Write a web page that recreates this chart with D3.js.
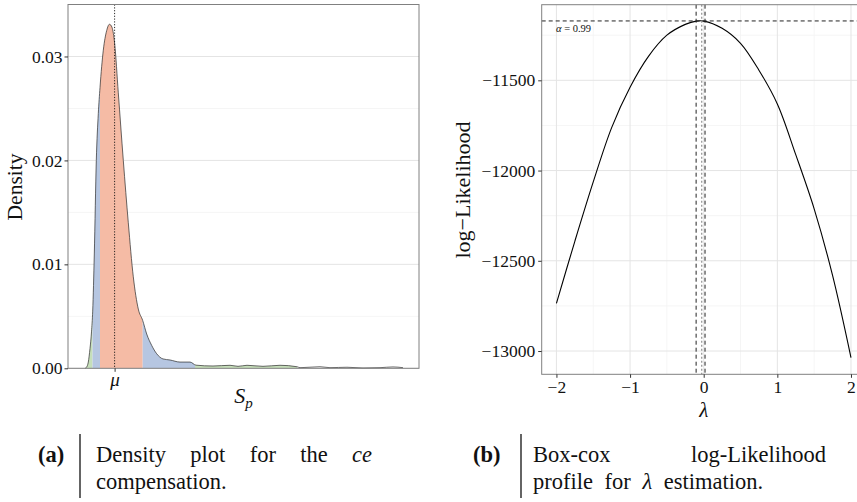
<!DOCTYPE html>
<html>
<head>
<meta charset="utf-8">
<script src="https://cdn.jsdelivr.net/npm/d3@7"></script>
<style>
  body { margin: 0; background: #fff; }
  svg { display: block; }
  svg text { font-family: "Liberation Serif", "DejaVu Serif", serif; fill: #111; }
</style>
</head>
<body>
<svg id="fig" width="857" height="502" font-family="Liberation Serif, serif"></svg>
<script>
// ---- Panel (a): kernel density of S_p ----
const spValues = [0, 1.5, 3.3, 5, 6.5, 7.7, 9.3, 11.3, 13.3, 15, 18.3, 21.7, 24.5, 27, 29.7,
  33.3, 38.3, 43.3, 48.3, 53.3, 57.7, 61.7, 66.7, 71.7, 78, 85, 95, 105, 111, 128, 145, 153,
  162, 178, 195, 212, 215, 235, 245, 262, 278, 295, 308, 318];
const densityValues = [0, 0.0001, 0.0006, 0.0019, 0.0035, 0.0055, 0.0110, 0.0200, 0.0245, 0.0270,
  0.0306, 0.0325, 0.0331, 0.0328, 0.0312, 0.0265, 0.0200, 0.0140, 0.0088, 0.0057, 0.0046, 0.0033,
  0.0022, 0.0014, 0.0009, 0.0008, 0.0006, 0.0006, 0.0003, 0.00022, 0.00029, 0.00019, 0.00029,
  0.00019, 0.00029, 0.00015, 0.00006, 0.00015, 0.00006, 0.0001, 0.00003, 0.00006, 0.00013, 0.00006];
// interval limits of the shaded bands (outer, middle, inner, middle, outer)
const bandStarts = [0, 7.5, 15, 57.7, 110];
const bandEnds   = [7.5, 15, 57.7, 110, 212];
const bandKinds  = ["outer", "middle", "inner", "middle", "outer"];
const muValue = 29.6;
const densityTicks = [0, 0.01, 0.02, 0.03];
const densityMinor = [0.005, 0.015, 0.025];

// ---- Panel (b): Box-Cox profile log-likelihood ----
const lambdaValues = [-2, -1.75, -1.5, -1.25, -1, -0.75, -0.5, -0.25, -0.1, 0, 0.25, 0.5, 0.75,
  1, 1.25, 1.5, 1.75, 2];
const logLikValues = [-12736, -12392, -12063, -11762, -11538, -11367, -11250, -11190, -11172,
  -11172, -11212, -11295, -11444, -11631, -11912, -12212, -12581, -13036];
const lambdaTicks = [-2, -1, 0, 1, 2];
const lambdaMinor = [-1.5, -0.5, 0.5, 1.5];
const logLikTicks = [-13000, -12500, -12000, -11500];
const logLikMinor = [-12750, -12250, -11750, -11250];
const lambdaCI = [-0.103, 0.018];
const lambdaHat = -0.027;
const logLikMax = -11171;

const SERIF = '"Liberation Serif", "DejaVu Serif", serif';
const svg = d3.select("#fig");
const fmtMinus = s => s.replace("-", "\u2212");

const bandFill = { inner: "#f5bba5", middle: "#b6c6e1", outer: "#c6dfba" };

// ================= panel (a) =================
const A = { left: 68, right: 419, top: 4.5, bottom: 368.3 };
const xA = d3.scaleLinear().domain([-17, 334]).range([A.left, A.right]);
const yA = d3.scaleLinear().domain([0, 0.035]).range([A.bottom, A.top]);
const gA = svg.append("g");

gA.selectAll("line.minor").data(densityMinor).join("line")
  .attr("x1", A.left).attr("x2", A.right)
  .attr("y1", d => yA(d)).attr("y2", d => yA(d))
  .attr("stroke", "#f3f3f3").attr("stroke-width", 0.8);
gA.selectAll("line.major").data(densityTicks).join("line")
  .attr("x1", A.left).attr("x2", A.right)
  .attr("y1", d => yA(d)).attr("y2", d => yA(d))
  .attr("stroke", "#e4e4e4").attr("stroke-width", 1);

const densPts = spValues.map((s, i) => [s, densityValues[i]]);
const areaA = d3.area().x(d => xA(d[0])).y0(yA(0)).y1(d => yA(d[1])).curve(d3.curveMonotoneX);
const lineA = d3.line().x(d => xA(d[0])).y(d => yA(d[1])).curve(d3.curveMonotoneX);

const defs = svg.append("defs");
bandStarts.forEach((b0, i) => {
  defs.append("clipPath").attr("id", "band" + i)
    .append("rect")
    .attr("x", xA(b0)).attr("y", A.top)
    .attr("width", xA(bandEnds[i]) - xA(b0)).attr("height", A.bottom - A.top);
  gA.append("path").datum(densPts)
    .attr("d", areaA)
    .attr("fill", bandFill[bandKinds[i]])
    .attr("clip-path", `url(#band${i})`);
});
gA.append("path").datum(densPts).attr("d", lineA)
  .attr("fill", "none").attr("stroke", "#2a2a2a").attr("stroke-width", 0.7);

gA.append("line")
  .attr("x1", xA(muValue)).attr("x2", xA(muValue))
  .attr("y1", A.top).attr("y2", A.bottom)
  .attr("stroke", "#111").attr("stroke-width", 0.9).attr("stroke-dasharray", "1.2,1.6");

gA.append("rect").attr("x", A.left).attr("y", A.top)
  .attr("width", A.right - A.left).attr("height", A.bottom - A.top)
  .attr("fill", "none").attr("stroke", "#808080").attr("stroke-width", 1);

const axA = gA.append("g").attr("transform", `translate(${A.left},0)`)
  .call(d3.axisLeft(yA).tickValues(densityTicks).tickFormat(d3.format(".2f")).tickSize(3.5).tickPadding(2));
axA.attr("font-family", SERIF);
axA.select(".domain").remove();
axA.selectAll(".tick line").attr("stroke", "#333");
axA.selectAll(".tick text").attr("font-size", 17.5).attr("fill", "#111").style("font-family", SERIF);

const axAx = gA.append("g").attr("transform", `translate(0,${A.bottom})`)
  .call(d3.axisBottom(xA).tickValues([muValue]).tickFormat(() => "\u03bc").tickSize(3.5).tickPadding(1));
axAx.attr("font-family", SERIF);
axAx.select(".domain").remove();
axAx.selectAll(".tick line").attr("stroke", "#333");
axAx.selectAll(".tick text").attr("font-size", 19).attr("font-style", "italic").attr("fill", "#111")
  .style("font-family", SERIF);

gA.append("text").attr("x", (A.left + A.right) / 2).attr("y", 403)
  .attr("text-anchor", "middle").attr("font-size", 22).attr("font-style", "italic")
  .text("S").append("tspan").attr("font-size", 15).attr("dy", 5).text("p");

gA.append("text").attr("transform", "translate(22,187) rotate(-90)")
  .attr("text-anchor", "middle").attr("font-size", 21.5).text("Density");

// ================= panel (b) =================
const B = { left: 541.7, right: 865.7, top: 4.7, bottom: 374.3 };
const xB = d3.scaleLinear().domain([-2.2, 2.2]).range([B.left, B.right]);
const yB = d3.scaleLinear().domain([-13129, -11081]).range([B.bottom, B.top]);
const gB = svg.append("g");

gB.selectAll("line.hminor").data(logLikMinor).join("line")
  .attr("x1", B.left).attr("x2", B.right).attr("y1", d => yB(d)).attr("y2", d => yB(d))
  .attr("stroke", "#f3f3f3").attr("stroke-width", 0.8);
gB.selectAll("line.vminor").data(lambdaMinor).join("line")
  .attr("y1", B.top).attr("y2", B.bottom).attr("x1", d => xB(d)).attr("x2", d => xB(d))
  .attr("stroke", "#f3f3f3").attr("stroke-width", 0.8);
gB.selectAll("line.hmajor").data(logLikTicks).join("line")
  .attr("x1", B.left).attr("x2", B.right).attr("y1", d => yB(d)).attr("y2", d => yB(d))
  .attr("stroke", "#e4e4e4").attr("stroke-width", 1);
gB.selectAll("line.vmajor").data(lambdaTicks).join("line")
  .attr("y1", B.top).attr("y2", B.bottom).attr("x1", d => xB(d)).attr("x2", d => xB(d))
  .attr("stroke", "#e4e4e4").attr("stroke-width", 1);

const profPts = lambdaValues.map((l, i) => [l, logLikValues[i]]);
gB.append("path").datum(profPts)
  .attr("d", d3.line().x(d => xB(d[0])).y(d => yB(d[1])).curve(d3.curveCatmullRom))
  .attr("fill", "none").attr("stroke", "#000").attr("stroke-width", 1.1);

// confidence-interval markers
gB.append("line").attr("x1", B.left).attr("x2", B.right)
  .attr("y1", yB(logLikMax)).attr("y2", yB(logLikMax))
  .attr("stroke", "#222").attr("stroke-width", 1).attr("stroke-dasharray", "4,3");
gB.append("line").attr("x1", xB(lambdaHat)).attr("x2", xB(lambdaHat))
  .attr("y1", B.top).attr("y2", B.bottom)
  .attr("stroke", "#999").attr("stroke-width", 1.3).attr("stroke-dasharray", "2,2");
gB.selectAll("line.ci").data(lambdaCI).join("line")
  .attr("x1", d => xB(d)).attr("x2", d => xB(d)).attr("y1", B.top).attr("y2", B.bottom)
  .attr("stroke", "#222").attr("stroke-width", 1).attr("stroke-dasharray", "4,3");

const alphaLab = gB.append("text").attr("x", 556).attr("y", 31.5).attr("font-size", 10.5);
alphaLab.append("tspan").attr("font-style", "italic").text("\u03b1");
alphaLab.append("tspan").text(" = 0.99");

gB.append("rect").attr("x", B.left).attr("y", B.top)
  .attr("width", B.right - B.left).attr("height", B.bottom - B.top)
  .attr("fill", "none").attr("stroke", "#808080").attr("stroke-width", 1);

const axBy = gB.append("g").attr("transform", `translate(${B.left},0)`)
  .call(d3.axisLeft(yB).tickValues(logLikTicks).tickFormat(d => fmtMinus(String(d))).tickSize(3.5).tickPadding(3));
axBy.attr("font-family", SERIF);
axBy.select(".domain").remove();
axBy.selectAll(".tick line").attr("stroke", "#333");
axBy.selectAll(".tick text").attr("font-size", 17.5).attr("fill", "#111").style("font-family", SERIF);

const axBx = gB.append("g").attr("transform", `translate(0,${B.bottom})`)
  .call(d3.axisBottom(xB).tickValues(lambdaTicks).tickFormat(d => fmtMinus(String(d))).tickSize(3.5).tickPadding(3));
axBx.attr("font-family", SERIF);
axBx.select(".domain").remove();
axBx.selectAll(".tick line").attr("stroke", "#333");
axBx.selectAll(".tick text").attr("font-size", 17.5).attr("fill", "#111").style("font-family", SERIF);

gB.append("text").attr("x", xB(0)).attr("y", 417).attr("text-anchor", "middle")
  .attr("font-size", 21).attr("font-style", "italic").text("\u03bb");

gB.append("text").attr("transform", "translate(470,190) rotate(-90)")
  .attr("text-anchor", "middle").attr("font-size", 22).text("log\u2212Likelihood");

// ================= captions =================
const CAP = 22.5;
function justifiedLine(g, words, x0, x1, y) {
  const nodes = words.map(w => g.append("text").attr("y", y).attr("font-size", CAP)
    .attr("font-style", w.italic ? "italic" : null).text(w.t));
  const widths = nodes.map(n => n.node().getComputedTextLength());
  const gap = (x1 - x0 - d3.sum(widths)) / (words.length - 1);
  let x = x0;
  nodes.forEach((n, i) => { n.attr("x", x); x += widths[i] + gap; });
}
const cap = svg.append("g");
function caption(label, xl, xbar, xt, xe, line1, line2) {
  cap.append("text").attr("x", xl).attr("y", 462).attr("font-size", CAP).attr("font-weight", "bold").text(label);
  cap.append("line").attr("x1", xbar).attr("x2", xbar).attr("y1", 434).attr("y2", 498)
    .attr("stroke", "#111").attr("stroke-width", 1.3);
  justifiedLine(cap, line1, xt, xe, 462);
  const t = cap.append("text").attr("x", xt).attr("y", 489).attr("font-size", CAP).attr("word-spacing", 6);
  line2.forEach(w => t.append("tspan").attr("font-style", w.italic ? "italic" : null).text(w.t));
}
caption("(a)", 38, 80, 96, 372,
  [{ t: "Density" }, { t: "plot" }, { t: "for" }, { t: "the" }, { t: "ce", italic: true }],
  [{ t: "compensation." }]);
caption("(b)", 473, 521, 533, 826,
  [{ t: "Box-cox" }, { t: "log-Likelihood" }],
  [{ t: "profile for " }, { t: "\u03bb", italic: true }, { t: " estimation." }]);
</script>
</body>
</html>
